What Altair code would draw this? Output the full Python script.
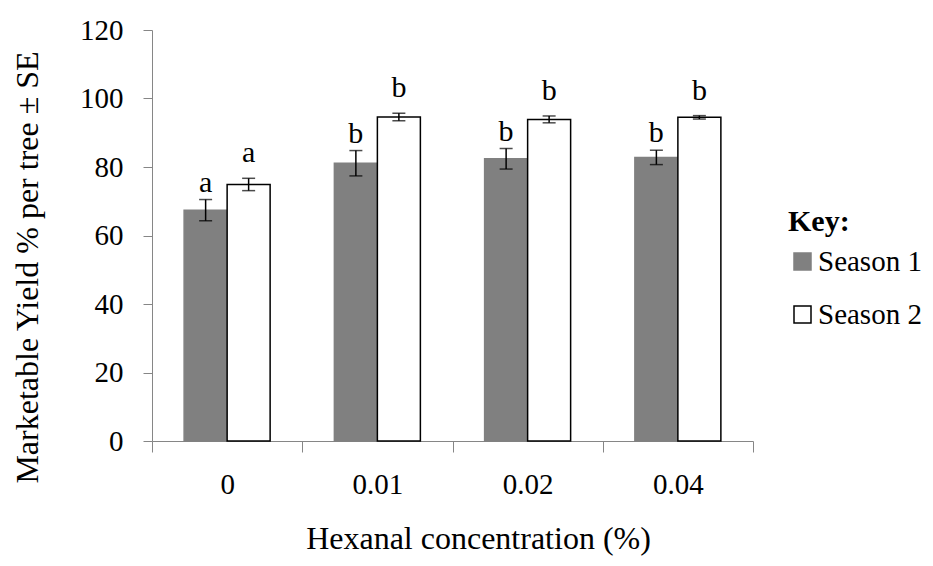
import altair as alt
import pandas as pd

concentrations = ["0", "0.01", "0.02", "0.04"]
seasons = ["Season 1", "Season 2"]
season1_mean = [67.4, 81.1, 82.4, 82.8]
season1_se = [3.1, 3.7, 3.0, 2.1]
season2_mean = [74.9, 94.6, 93.9, 94.5]
season2_se = [1.8, 1.1, 1.0, 0.5]
season1_letters = ["a", "b", "b", "b"]
season2_letters = ["a", "b", "b", "b"]

rows = []
for i, c in enumerate(concentrations):
    rows.append(dict(conc=c, season="Season 1", mean=season1_mean[i], se=season1_se[i], letter=season1_letters[i]))
    rows.append(dict(conc=c, season="Season 2", mean=season2_mean[i], se=season2_se[i], letter=season2_letters[i]))
df = pd.DataFrame(rows)
df["lo"] = df["mean"] - df["se"]
df["hi"] = df["mean"] + df["se"]

FONT = "Liberation Serif"
AXIS_GREY = "#868686"

x_enc = alt.X(
    "conc:N",
    sort=concentrations,
    scale=alt.Scale(paddingInner=0, paddingOuter=0),
    axis=alt.Axis(
        title="Hexanal concentration (%)",
        labelAngle=0,
        tickBand="extent",
        domainColor=AXIS_GREY,
        tickColor=AXIS_GREY,
        tickSize=11,
        labelPadding=18,
        labelFont=FONT,
        labelFontSize=29,
        labelColor="black",
        titleFont=FONT,
        titleFontSize=32,
        titleFontWeight="normal",
        titleColor="black",
        titleX=326,
        titleY=107,
        titleBaseline="alphabetic",
        titleAlign="center",
    ),
)
xo_enc = alt.XOffset("season:N", sort=seasons, scale=alt.Scale(paddingInner=0, paddingOuter=0.747))

y_scale = alt.Scale(domain=[0, 120], nice=False)
y_axis = alt.Axis(
    title="Marketable Yield % per tree \u00b1 SE",
    values=[0, 20, 40, 60, 80, 100, 120],
    grid=False,
    domainColor=AXIS_GREY,
    tickColor=AXIS_GREY,
    tickSize=9,
    labelPadding=20,
    labelFont=FONT,
    labelFontSize=29,
    labelColor="black",
    titleFont=FONT,
    titleFontSize=32,
    titleFontWeight="normal",
    titleColor="black",
    titleAngle=-90,
    titleX=-115,
    titleY=237,
    titleBaseline="alphabetic",
    titleAlign="center",
)

def y_of(field):
    return alt.Y(field + ":Q", scale=y_scale, axis=y_axis, title="Marketable Yield % per tree \u00b1 SE")

legend = alt.Legend(
    title="Key:",
    orient="none",
    legendX=636,
    legendY=177,
    titleFont=FONT,
    titleFontSize=30,
    titleFontWeight="bold",
    titleColor="black",
    titlePadding=10,
    labelFont=FONT,
    labelFontSize=29,
    labelColor="black",
    labelOffset=1,
    symbolType="square",
    symbolSize=289,
    symbolStrokeWidth=1.5,
    symbolOffset=0,
    rowPadding=23,
)

base = alt.Chart(df)

bars = base.mark_bar(strokeWidth=1.5).encode(
    x=x_enc,
    xOffset=xo_enc,
    y=y_of("mean"),
    color=alt.Color("season:N", sort=seasons,
                    scale=alt.Scale(domain=seasons, range=["#808080", "#ffffff"]),
                    legend=legend),
    stroke=alt.Stroke("season:N", sort=seasons,
                      scale=alt.Scale(domain=seasons, range=["#808080", "#000000"]),
                      legend=legend),
)

err = base.mark_rule(color="black", strokeWidth=1.5).encode(
    x=x_enc, xOffset=xo_enc, y=y_of("lo"), y2="hi:Q"
)
cap_hi = base.mark_tick(color="black", thickness=1.5, size=13).encode(
    x=x_enc, xOffset=xo_enc, y=y_of("hi")
)
cap_lo = base.mark_tick(color="black", thickness=1.5, size=13).encode(
    x=x_enc, xOffset=xo_enc, y=y_of("lo")
)

txt1 = base.transform_filter(alt.datum.season == "Season 1").mark_text(
    font=FONT, fontSize=30, dy=-8, baseline="alphabetic", color="black"
).encode(x=x_enc, xOffset=xo_enc, y=y_of("hi"), text="letter:N")
txt2 = base.transform_filter(alt.datum.season == "Season 2").mark_text(
    font=FONT, fontSize=30, dy=-16, baseline="alphabetic", color="black"
).encode(x=x_enc, xOffset=xo_enc, y=y_of("hi"), text="letter:N")

chart = alt.layer(bars, err, cap_hi, cap_lo, txt1, txt2).properties(
    width=601,
    height=411,
    autosize=alt.AutoSizeParams(type="none"),
    padding={"left": 144, "top": 22, "right": 172, "bottom": 117},
    background="white",
).configure_view(stroke=None)

chart.save("out.html", embed_options={"renderer": "svg", "actions": False})
